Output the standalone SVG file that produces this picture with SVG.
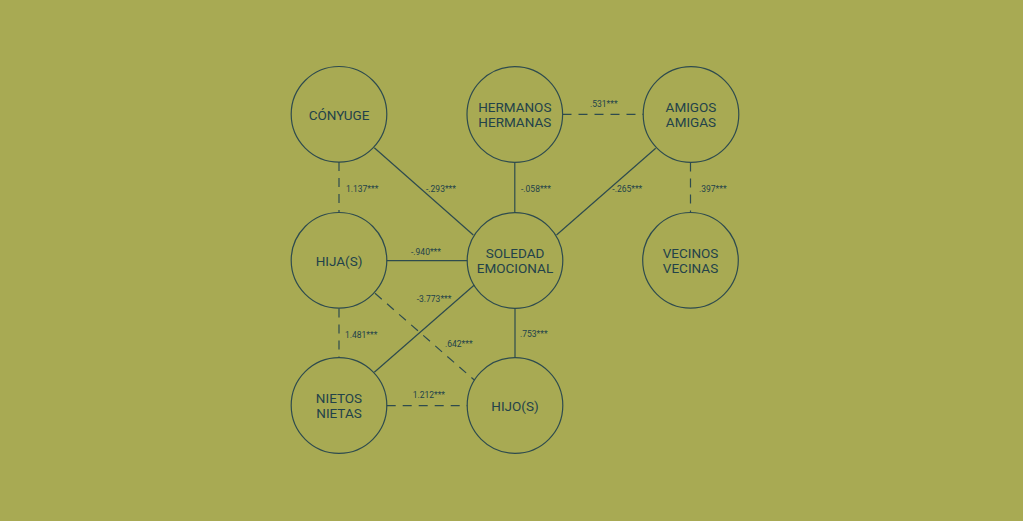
<svg xmlns="http://www.w3.org/2000/svg" width="1023" height="521" viewBox="0 0 1023 521">
<style>
.c{fill:none;stroke:#2E4B4E;stroke-width:1.2}
.s{stroke:#2E4B4E;stroke-width:1.2;fill:none}
.d{stroke:#2E4B4E;stroke-width:1.2;fill:none;stroke-dasharray:9 7}
.t{font-family:Roboto,"Liberation Sans",sans-serif;font-size:13.5px;fill:#23424A;text-anchor:middle}
.l{font-family:Roboto,"Liberation Sans",sans-serif;font-size:8.5px;fill:#23424A}
</style>
<rect width="1023" height="521" fill="#A8AA53"/>
<g id="connectors">
<line class="d" x1="339" y1="162" x2="339" y2="212"/>
<line class="s" x1="374.3" y1="147.7" x2="473.3" y2="235"/>
<line class="s" x1="514.8" y1="162.5" x2="514.8" y2="212.5"/>
<line class="d" x1="562.5" y1="114.3" x2="643.3" y2="114.3"/>
<line class="s" x1="655.7" y1="148.3" x2="556.5" y2="235"/>
<line class="d" x1="690.5" y1="162.5" x2="690.5" y2="212.5"/>
<line class="s" x1="386.7" y1="260.7" x2="467.3" y2="260.7"/>
<line class="s" x1="374.3" y1="372.3" x2="474.3" y2="285"/>
<line class="d" x1="375" y1="293.3" x2="474.3" y2="380"/>
<line class="d" x1="339" y1="308.5" x2="339" y2="357.5"/>
<line class="s" x1="515" y1="308.5" x2="515" y2="357.5"/>
<line class="d" x1="386.7" y1="405.7" x2="467.3" y2="405.7"/>
<text class="l" x="346" y="191.7">1.137***</text>
<text class="l" x="426" y="191.7">-.293***</text>
<text class="l" x="521" y="191.7">-.058***</text>
<text class="l" x="590" y="107.3">.531***</text>
<text class="l" x="612.3" y="191.7">-.265***</text>
<text class="l" x="699" y="191.7">.397***</text>
<text class="l" x="411" y="255">-.940***</text>
<text class="l" x="416.7" y="302.3">-3.773***</text>
<text class="l" x="345" y="337.7">1.481***</text>
<text class="l" x="445" y="346.7">.642***</text>
<text class="l" x="520" y="336.7">.753***</text>
<text class="l" x="412.7" y="398.3">1.212***</text>
</g>
<g id="conyuge"><circle class="c" cx="339" cy="114.3" r="47.8"/><text class="t" x="339" y="119.5">CÓNYUGE</text></g>
<g id="hermanos"><circle class="c" cx="514.8" cy="114.5" r="47.8"/><text class="t" x="514.8" y="111.7">HERMANOS</text><text class="t" x="514.8" y="127.3">HERMANAS</text></g>
<g id="amigos"><circle class="c" cx="691" cy="114.5" r="47.8"/><text class="t" x="691" y="111.7">AMIGOS</text><text class="t" x="691" y="127.3">AMIGAS</text></g>
<g id="hijas"><circle class="c" cx="339" cy="260.3" r="47.8"/><text class="t" x="339" y="265.5">HIJA(S)</text></g>
<g id="soledad"><circle class="c" cx="515" cy="260.5" r="47.8"/><text class="t" x="515" y="257.7">SOLEDAD</text><text class="t" x="515" y="273.3">EMOCIONAL</text></g>
<g id="vecinos"><circle class="c" cx="690.5" cy="260.3" r="47.8"/><text class="t" x="690.5" y="257.5">VECINOS</text><text class="t" x="690.5" y="273.1">VECINAS</text></g>
<g id="nietos"><circle class="c" cx="339" cy="405.5" r="47.8"/><text class="t" x="339" y="402.7">NIETOS</text><text class="t" x="339" y="418.3">NIETAS</text></g>
<g id="hijos"><circle class="c" cx="515" cy="405.5" r="47.8"/><text class="t" x="515" y="410.5">HIJO(S)</text></g>
</svg>
